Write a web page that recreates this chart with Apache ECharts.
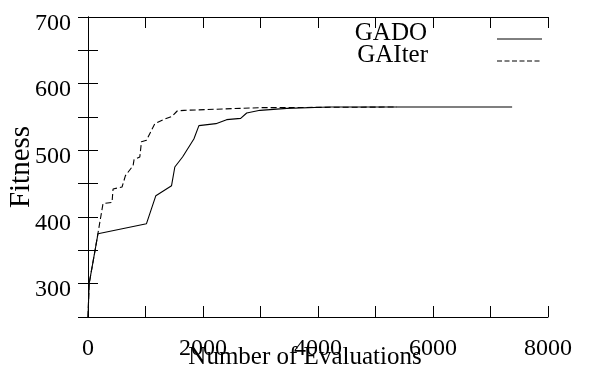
<!DOCTYPE html>
<html>
<head>
<meta charset="utf-8">
<script src="https://cdn.jsdelivr.net/npm/echarts@6/dist/echarts.min.js"></script>
<style>html,body{margin:0;padding:0;background:#fff}#c{width:595px;height:374px}</style>
</head>
<body>
<div id="c"></div>
<script>
// Data
const gadoX = [0, 20, 174, 1017, 1180, 1453, 1510, 1644, 1841, 1929, 2225, 2411, 2655, 2760, 2991, 3456, 4200, 7376];
const gadoY = [250, 300, 375, 390, 432, 447, 475, 490, 517, 537, 540, 546, 548, 556, 560, 563, 565, 565];
const gaIterX = [0, 20, 117, 261, 418, 436, 592, 651, 784, 801, 901, 930, 1017, 1162, 1307, 1463, 1551, 1672, 3000, 5373];
const gaIterY = [250, 300, 347, 420, 422, 442, 445, 462, 477, 486, 490, 513, 515, 540, 546, 551, 559, 560, 564, 565];
const seriesNames = ['GADO', 'GAIter'];
const xLabels = [0, 2000, 4000, 6000, 8000];
const yLabels = [300, 400, 500, 600, 700];
const xTitle = 'Number of Evaluations';
const yTitle = 'Fitness';

const font = 'Liberation Serif';
const pairs = (xs, ys) => xs.map((x, i) => [x, ys[i]]);
const chart = echarts.init(document.getElementById('c'), null, {renderer: 'canvas'});
const axisLine = {show: true, lineStyle: {color: '#000', width: 1}};
const tick = (len) => ({show: true, inside: true, length: len, lineStyle: {color: '#000', width: 1}});
chart.setOption({
  animation: false,
  backgroundColor: '#fff',
  grid: {left: 88, right: 47, top: 17, bottom: 57, containLabel: false, outerBoundsMode: 'none'},
  xAxis: [{
    type: 'value', min: 0, max: 8000, interval: 1000, position: 'bottom',
    axisLine: axisLine, axisTick: tick(11), splitLine: {show: false},
    axisLabel: {color: '#000', fontFamily: font, fontSize: 24, margin: 20,
      formatter: v => xLabels.includes(v) ? String(v) : ''}
  }, {
    type: 'value', min: 0, max: 8000, interval: 1000, position: 'top',
    axisLine: axisLine, axisTick: tick(11), axisLabel: {show: false}, splitLine: {show: false}
  }],
  yAxis: [{
    type: 'value', min: 250, max: 700, interval: 50, position: 'left',
    axisLine: axisLine, axisTick: tick(10), splitLine: {show: false},
    axisLabel: {color: '#000', fontFamily: font, fontSize: 24, margin: 17,
      verticalAlign: 'top', lineHeight: 13,
      formatter: v => yLabels.includes(v) ? String(v) : ''},
    name: yTitle, nameLocation: 'middle', nameGap: 52, nameRotate: 90, nameMoveOverlap: false,
    nameTextStyle: {color: '#000', fontFamily: font, fontSize: 29}
  }, {
    type: 'value', min: 250, max: 700, interval: 50, position: 'right',
    axisLine: axisLine, axisTick: tick(10), axisLabel: {show: false}, splitLine: {show: false}
  }],
  series: [{
    name: seriesNames[0], type: 'line', data: pairs(gadoX, gadoY),
    showSymbol: false, lineStyle: {color: '#000', width: 1.1, type: 'solid'}
  }, {
    name: seriesNames[1], type: 'line', data: pairs(gaIterX, gaIterY),
    showSymbol: false, lineStyle: {color: '#000', width: 1.1, type: [6, 3]}
  }],
  graphic: [
    {type: 'text', x: 305, y: 357, style: {text: xTitle, fill: '#000', font: '25px "Liberation Serif"', textAlign: 'center', textVerticalAlign: 'middle'}},
    {type: 'text', right: 168, top: 21, style: {text: seriesNames[0], fill: '#000', font: '25px "Liberation Serif"'}},
    {type: 'text', right: 167, top: 43, style: {text: seriesNames[1], fill: '#000', font: '25px "Liberation Serif"'}},
    {type: 'line', shape: {x1: 497, y1: 39, x2: 542, y2: 39}, style: {stroke: '#000', lineWidth: 1}},
    {type: 'line', shape: {x1: 497, y1: 61, x2: 542, y2: 61}, style: {stroke: '#000', lineWidth: 1, lineDash: [5, 2.5]}}
  ]
});
</script>
</body>
</html>
